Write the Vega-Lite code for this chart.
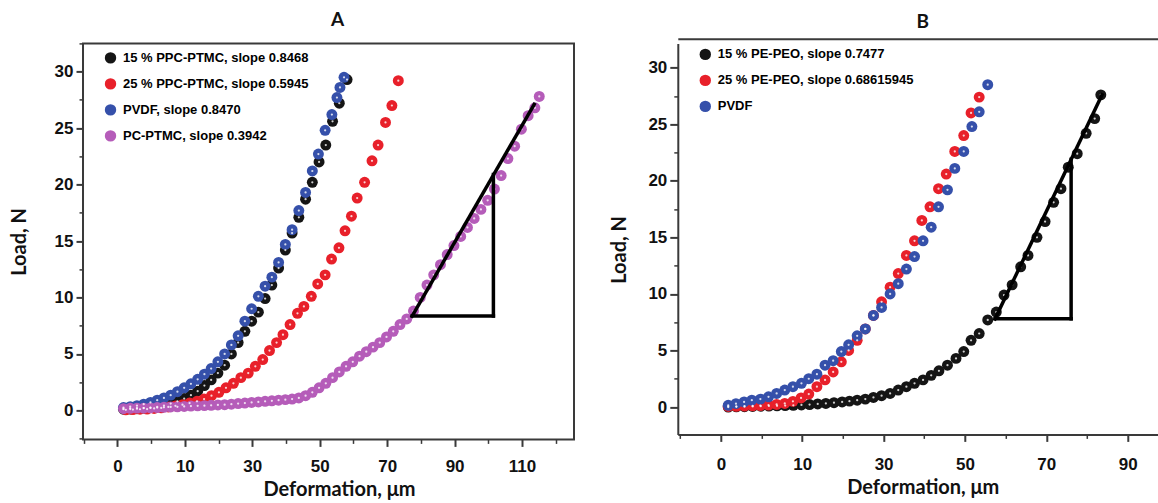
{
  "$schema": "https://vega.github.io/schema/vega-lite/v6.json",
  "padding": {"left": 8, "top": 9.4, "right": 0, "bottom": 0},
  "spacing": 33.8,
  "resolve": {"scale": {"color": "independent"}, "legend": {"color": "independent"}},
  "config": {
    "view": {"stroke": "#3a3a3a", "strokeWidth": 2},
    "axis": {"labelFont": "Liberation Sans", "labelFontWeight": "bold", "labelFontSize": 17, "labelColor": "#111111", "titleFont": "Lato", "titleFontWeight": "bold", "titleFontSize": 20, "titleColor": "#111111", "tickColor": "#3a3a3a", "grid": false, "domain": false, "domainColor": "#3a3a3a", "domainWidth": 2},
    "title": {"font": "Lato", "fontWeight": "bold", "fontSize": 19, "color": "#111111"},
    "legend": {"orient": "none", "title": null, "padding": 0, "rowPadding": 12, "labelOffset": 6, "symbolSize": 130, "symbolType": "circle", "symbolStrokeWidth": 0, "labelFont": "Liberation Sans", "labelFontWeight": "bold", "labelFontSize": 13, "labelLimit": 400}
  },
  "datasets": {
    "a": [
      {"s": "15 % PPC-PTMC, slope 0.8468", "x": -8.2, "y": 0.1}, {"s": "15 % PPC-PTMC, slope 0.8468", "x": -6.2, "y": 0.12}, {"s": "15 % PPC-PTMC, slope 0.8468", "x": -4.2, "y": 0.15}, {"s": "15 % PPC-PTMC, slope 0.8468", "x": -2.2, "y": 0.2}, {"s": "15 % PPC-PTMC, slope 0.8468", "x": -0.2, "y": 0.25}, {"s": "15 % PPC-PTMC, slope 0.8468", "x": 1.8, "y": 0.32}, {"s": "15 % PPC-PTMC, slope 0.8468", "x": 3.8, "y": 0.42}, {"s": "15 % PPC-PTMC, slope 0.8468", "x": 5.8, "y": 0.6}, {"s": "15 % PPC-PTMC, slope 0.8468", "x": 7.8, "y": 0.8}, {"s": "15 % PPC-PTMC, slope 0.8468", "x": 9.8, "y": 1.05}, {"s": "15 % PPC-PTMC, slope 0.8468", "x": 11.8, "y": 1.35}, {"s": "15 % PPC-PTMC, slope 0.8468", "x": 13.8, "y": 1.7}, {"s": "15 % PPC-PTMC, slope 0.8468", "x": 15.8, "y": 2.2}, {"s": "15 % PPC-PTMC, slope 0.8468", "x": 17.8, "y": 2.7}, {"s": "15 % PPC-PTMC, slope 0.8468", "x": 19.8, "y": 3.3}, {"s": "15 % PPC-PTMC, slope 0.8468", "x": 21.8, "y": 4.0}, {"s": "15 % PPC-PTMC, slope 0.8468", "x": 23.8, "y": 5.0}, {"s": "15 % PPC-PTMC, slope 0.8468", "x": 25.8, "y": 6.0}, {"s": "15 % PPC-PTMC, slope 0.8468", "x": 27.8, "y": 7.0}, {"s": "15 % PPC-PTMC, slope 0.8468", "x": 29.8, "y": 7.9}, {"s": "15 % PPC-PTMC, slope 0.8468", "x": 31.8, "y": 8.7}, {"s": "15 % PPC-PTMC, slope 0.8468", "x": 33.8, "y": 9.9}, {"s": "15 % PPC-PTMC, slope 0.8468", "x": 35.8, "y": 11.1}, {"s": "15 % PPC-PTMC, slope 0.8468", "x": 37.8, "y": 12.6}, {"s": "15 % PPC-PTMC, slope 0.8468", "x": 39.8, "y": 14.2}, {"s": "15 % PPC-PTMC, slope 0.8468", "x": 41.8, "y": 15.7}, {"s": "15 % PPC-PTMC, slope 0.8468", "x": 43.8, "y": 17.1}, {"s": "15 % PPC-PTMC, slope 0.8468", "x": 45.8, "y": 18.7}, {"s": "15 % PPC-PTMC, slope 0.8468", "x": 47.8, "y": 20.2}, {"s": "15 % PPC-PTMC, slope 0.8468", "x": 49.8, "y": 22.0}, {"s": "15 % PPC-PTMC, slope 0.8468", "x": 51.8, "y": 23.5}, {"s": "15 % PPC-PTMC, slope 0.8468", "x": 53.8, "y": 25.6}, {"s": "15 % PPC-PTMC, slope 0.8468", "x": 55.8, "y": 27.2}, {"s": "15 % PPC-PTMC, slope 0.8468", "x": 58.1, "y": 29.3},
      {"s": "25 % PPC-PTMC, slope 0.5945", "x": -7.5, "y": 0.05}, {"s": "25 % PPC-PTMC, slope 0.5945", "x": -5.4, "y": 0.07}, {"s": "25 % PPC-PTMC, slope 0.5945", "x": -3.3, "y": 0.1}, {"s": "25 % PPC-PTMC, slope 0.5945", "x": -1.2, "y": 0.12}, {"s": "25 % PPC-PTMC, slope 0.5945", "x": 0.9, "y": 0.17}, {"s": "25 % PPC-PTMC, slope 0.5945", "x": 3.0, "y": 0.22}, {"s": "25 % PPC-PTMC, slope 0.5945", "x": 5.1, "y": 0.3}, {"s": "25 % PPC-PTMC, slope 0.5945", "x": 7.2, "y": 0.4}, {"s": "25 % PPC-PTMC, slope 0.5945", "x": 9.3, "y": 0.5}, {"s": "25 % PPC-PTMC, slope 0.5945", "x": 11.4, "y": 0.65}, {"s": "25 % PPC-PTMC, slope 0.5945", "x": 13.6, "y": 0.8}, {"s": "25 % PPC-PTMC, slope 0.5945", "x": 15.7, "y": 1.0}, {"s": "25 % PPC-PTMC, slope 0.5945", "x": 17.9, "y": 1.3}, {"s": "25 % PPC-PTMC, slope 0.5945", "x": 20.1, "y": 1.6}, {"s": "25 % PPC-PTMC, slope 0.5945", "x": 22.2, "y": 2.0}, {"s": "25 % PPC-PTMC, slope 0.5945", "x": 24.4, "y": 2.4}, {"s": "25 % PPC-PTMC, slope 0.5945", "x": 26.6, "y": 2.9}, {"s": "25 % PPC-PTMC, slope 0.5945", "x": 28.8, "y": 3.3}, {"s": "25 % PPC-PTMC, slope 0.5945", "x": 30.9, "y": 3.9}, {"s": "25 % PPC-PTMC, slope 0.5945", "x": 33.1, "y": 4.5}, {"s": "25 % PPC-PTMC, slope 0.5945", "x": 35.1, "y": 5.3}, {"s": "25 % PPC-PTMC, slope 0.5945", "x": 37.2, "y": 6.0}, {"s": "25 % PPC-PTMC, slope 0.5945", "x": 39.1, "y": 6.7}, {"s": "25 % PPC-PTMC, slope 0.5945", "x": 41.2, "y": 7.6}, {"s": "25 % PPC-PTMC, slope 0.5945", "x": 43.4, "y": 8.6}, {"s": "25 % PPC-PTMC, slope 0.5945", "x": 45.3, "y": 9.2}, {"s": "25 % PPC-PTMC, slope 0.5945", "x": 47.5, "y": 10.1}, {"s": "25 % PPC-PTMC, slope 0.5945", "x": 49.4, "y": 11.2}, {"s": "25 % PPC-PTMC, slope 0.5945", "x": 51.6, "y": 12.0}, {"s": "25 % PPC-PTMC, slope 0.5945", "x": 53.5, "y": 13.4}, {"s": "25 % PPC-PTMC, slope 0.5945", "x": 55.7, "y": 14.4}, {"s": "25 % PPC-PTMC, slope 0.5945", "x": 57.5, "y": 15.9}, {"s": "25 % PPC-PTMC, slope 0.5945", "x": 59.4, "y": 17.2}, {"s": "25 % PPC-PTMC, slope 0.5945", "x": 61.1, "y": 18.8}, {"s": "25 % PPC-PTMC, slope 0.5945", "x": 63.3, "y": 20.2}, {"s": "25 % PPC-PTMC, slope 0.5945", "x": 65.5, "y": 22.1}, {"s": "25 % PPC-PTMC, slope 0.5945", "x": 67.3, "y": 23.5}, {"s": "25 % PPC-PTMC, slope 0.5945", "x": 69.5, "y": 25.5}, {"s": "25 % PPC-PTMC, slope 0.5945", "x": 71.4, "y": 27.0}, {"s": "25 % PPC-PTMC, slope 0.5945", "x": 73.3, "y": 29.2},
      {"s": "PVDF,  slope 0.8470", "x": -8.2, "y": 0.25}, {"s": "PVDF,  slope 0.8470", "x": -6.2, "y": 0.33}, {"s": "PVDF,  slope 0.8470", "x": -4.2, "y": 0.42}, {"s": "PVDF,  slope 0.8470", "x": -2.2, "y": 0.55}, {"s": "PVDF,  slope 0.8470", "x": -0.2, "y": 0.7}, {"s": "PVDF,  slope 0.8470", "x": 1.8, "y": 0.9}, {"s": "PVDF,  slope 0.8470", "x": 3.8, "y": 1.1}, {"s": "PVDF,  slope 0.8470", "x": 5.8, "y": 1.35}, {"s": "PVDF,  slope 0.8470", "x": 7.8, "y": 1.65}, {"s": "PVDF,  slope 0.8470", "x": 9.8, "y": 2.0}, {"s": "PVDF,  slope 0.8470", "x": 11.8, "y": 2.35}, {"s": "PVDF,  slope 0.8470", "x": 13.8, "y": 2.75}, {"s": "PVDF,  slope 0.8470", "x": 15.8, "y": 3.2}, {"s": "PVDF,  slope 0.8470", "x": 17.8, "y": 3.7}, {"s": "PVDF,  slope 0.8470", "x": 19.8, "y": 4.3}, {"s": "PVDF,  slope 0.8470", "x": 21.8, "y": 5.0}, {"s": "PVDF,  slope 0.8470", "x": 23.8, "y": 5.8}, {"s": "PVDF,  slope 0.8470", "x": 25.8, "y": 6.6}, {"s": "PVDF,  slope 0.8470", "x": 27.8, "y": 7.9}, {"s": "PVDF,  slope 0.8470", "x": 29.8, "y": 9.0}, {"s": "PVDF,  slope 0.8470", "x": 31.8, "y": 10.1}, {"s": "PVDF,  slope 0.8470", "x": 33.8, "y": 11.0}, {"s": "PVDF,  slope 0.8470", "x": 35.8, "y": 11.8}, {"s": "PVDF,  slope 0.8470", "x": 37.8, "y": 13.1}, {"s": "PVDF,  slope 0.8470", "x": 39.8, "y": 14.7}, {"s": "PVDF,  slope 0.8470", "x": 41.8, "y": 16.0}, {"s": "PVDF,  slope 0.8470", "x": 43.8, "y": 17.7}, {"s": "PVDF,  slope 0.8470", "x": 45.8, "y": 19.3}, {"s": "PVDF,  slope 0.8470", "x": 47.8, "y": 21.2}, {"s": "PVDF,  slope 0.8470", "x": 49.6, "y": 22.7}, {"s": "PVDF,  slope 0.8470", "x": 51.6, "y": 24.8}, {"s": "PVDF,  slope 0.8470", "x": 53.6, "y": 26.2}, {"s": "PVDF,  slope 0.8470", "x": 55.1, "y": 27.7}, {"s": "PVDF,  slope 0.8470", "x": 56.0, "y": 28.6}, {"s": "PVDF,  slope 0.8470", "x": 57.2, "y": 29.5},
      {"s": "PC-PTMC, slope 0.3942", "x": -8.2, "y": 0.15}, {"s": "PC-PTMC, slope 0.3942", "x": -6.2, "y": 0.18}, {"s": "PC-PTMC, slope 0.3942", "x": -4.2, "y": 0.2}, {"s": "PC-PTMC, slope 0.3942", "x": -2.2, "y": 0.2}, {"s": "PC-PTMC, slope 0.3942", "x": -0.2, "y": 0.22}, {"s": "PC-PTMC, slope 0.3942", "x": 1.8, "y": 0.25}, {"s": "PC-PTMC, slope 0.3942", "x": 3.8, "y": 0.27}, {"s": "PC-PTMC, slope 0.3942", "x": 5.8, "y": 0.3}, {"s": "PC-PTMC, slope 0.3942", "x": 7.8, "y": 0.32}, {"s": "PC-PTMC, slope 0.3942", "x": 9.8, "y": 0.35}, {"s": "PC-PTMC, slope 0.3942", "x": 11.8, "y": 0.38}, {"s": "PC-PTMC, slope 0.3942", "x": 13.8, "y": 0.4}, {"s": "PC-PTMC, slope 0.3942", "x": 15.8, "y": 0.42}, {"s": "PC-PTMC, slope 0.3942", "x": 17.8, "y": 0.45}, {"s": "PC-PTMC, slope 0.3942", "x": 19.8, "y": 0.48}, {"s": "PC-PTMC, slope 0.3942", "x": 21.8, "y": 0.5}, {"s": "PC-PTMC, slope 0.3942", "x": 23.8, "y": 0.55}, {"s": "PC-PTMC, slope 0.3942", "x": 25.8, "y": 0.6}, {"s": "PC-PTMC, slope 0.3942", "x": 27.8, "y": 0.65}, {"s": "PC-PTMC, slope 0.3942", "x": 29.8, "y": 0.7}, {"s": "PC-PTMC, slope 0.3942", "x": 31.8, "y": 0.75}, {"s": "PC-PTMC, slope 0.3942", "x": 33.8, "y": 0.8}, {"s": "PC-PTMC, slope 0.3942", "x": 35.8, "y": 0.85}, {"s": "PC-PTMC, slope 0.3942", "x": 37.8, "y": 0.9}, {"s": "PC-PTMC, slope 0.3942", "x": 39.8, "y": 0.95}, {"s": "PC-PTMC, slope 0.3942", "x": 41.8, "y": 1.0}, {"s": "PC-PTMC, slope 0.3942", "x": 43.8, "y": 1.1}, {"s": "PC-PTMC, slope 0.3942", "x": 45.8, "y": 1.3}, {"s": "PC-PTMC, slope 0.3942", "x": 47.8, "y": 1.6}, {"s": "PC-PTMC, slope 0.3942", "x": 49.8, "y": 2.0}, {"s": "PC-PTMC, slope 0.3942", "x": 51.8, "y": 2.4}, {"s": "PC-PTMC, slope 0.3942", "x": 53.8, "y": 2.9}, {"s": "PC-PTMC, slope 0.3942", "x": 55.8, "y": 3.4}, {"s": "PC-PTMC, slope 0.3942", "x": 57.8, "y": 3.9}, {"s": "PC-PTMC, slope 0.3942", "x": 59.8, "y": 4.3}, {"s": "PC-PTMC, slope 0.3942", "x": 61.8, "y": 4.8}, {"s": "PC-PTMC, slope 0.3942", "x": 63.8, "y": 5.2}, {"s": "PC-PTMC, slope 0.3942", "x": 65.8, "y": 5.6}, {"s": "PC-PTMC, slope 0.3942", "x": 67.8, "y": 6.0}, {"s": "PC-PTMC, slope 0.3942", "x": 69.8, "y": 6.5}, {"s": "PC-PTMC, slope 0.3942", "x": 71.8, "y": 7.0}, {"s": "PC-PTMC, slope 0.3942", "x": 73.8, "y": 7.6}, {"s": "PC-PTMC, slope 0.3942", "x": 75.8, "y": 8.1}, {"s": "PC-PTMC, slope 0.3942", "x": 77.8, "y": 8.8}, {"s": "PC-PTMC, slope 0.3942", "x": 79.8, "y": 10.0}, {"s": "PC-PTMC, slope 0.3942", "x": 81.8, "y": 11.1}, {"s": "PC-PTMC, slope 0.3942", "x": 83.8, "y": 12.0}, {"s": "PC-PTMC, slope 0.3942", "x": 85.8, "y": 12.9}, {"s": "PC-PTMC, slope 0.3942", "x": 87.8, "y": 13.8}, {"s": "PC-PTMC, slope 0.3942", "x": 89.8, "y": 14.6}, {"s": "PC-PTMC, slope 0.3942", "x": 91.8, "y": 15.4}, {"s": "PC-PTMC, slope 0.3942", "x": 93.8, "y": 16.2}, {"s": "PC-PTMC, slope 0.3942", "x": 95.8, "y": 17.0}, {"s": "PC-PTMC, slope 0.3942", "x": 97.8, "y": 17.8}, {"s": "PC-PTMC, slope 0.3942", "x": 99.8, "y": 18.6}, {"s": "PC-PTMC, slope 0.3942", "x": 101.8, "y": 19.6}, {"s": "PC-PTMC, slope 0.3942", "x": 103.8, "y": 20.8}, {"s": "PC-PTMC, slope 0.3942", "x": 105.8, "y": 22.3}, {"s": "PC-PTMC, slope 0.3942", "x": 107.8, "y": 23.4}, {"s": "PC-PTMC, slope 0.3942", "x": 109.8, "y": 24.9}, {"s": "PC-PTMC, slope 0.3942", "x": 111.8, "y": 26.1}, {"s": "PC-PTMC, slope 0.3942", "x": 113.8, "y": 26.8}, {"s": "PC-PTMC, slope 0.3942", "x": 115.1, "y": 27.8}
    ],
    "b": [
      {"s": "15 % PE-PEO, slope 0.7477", "x": -8.2, "y": 0.0}, {"s": "15 % PE-PEO, slope 0.7477", "x": -6.2, "y": 0.02}, {"s": "15 % PE-PEO, slope 0.7477", "x": -4.2, "y": 0.03}, {"s": "15 % PE-PEO, slope 0.7477", "x": -2.2, "y": 0.05}, {"s": "15 % PE-PEO, slope 0.7477", "x": -0.2, "y": 0.07}, {"s": "15 % PE-PEO, slope 0.7477", "x": 1.8, "y": 0.09}, {"s": "15 % PE-PEO, slope 0.7477", "x": 3.8, "y": 0.11}, {"s": "15 % PE-PEO, slope 0.7477", "x": 5.8, "y": 0.13}, {"s": "15 % PE-PEO, slope 0.7477", "x": 7.8, "y": 0.15}, {"s": "15 % PE-PEO, slope 0.7477", "x": 9.8, "y": 0.18}, {"s": "15 % PE-PEO, slope 0.7477", "x": 11.8, "y": 0.22}, {"s": "15 % PE-PEO, slope 0.7477", "x": 13.8, "y": 0.27}, {"s": "15 % PE-PEO, slope 0.7477", "x": 15.8, "y": 0.32}, {"s": "15 % PE-PEO, slope 0.7477", "x": 17.8, "y": 0.38}, {"s": "15 % PE-PEO, slope 0.7477", "x": 19.8, "y": 0.45}, {"s": "15 % PE-PEO, slope 0.7477", "x": 21.6, "y": 0.52}, {"s": "15 % PE-PEO, slope 0.7477", "x": 23.5, "y": 0.6}, {"s": "15 % PE-PEO, slope 0.7477", "x": 25.5, "y": 0.7}, {"s": "15 % PE-PEO, slope 0.7477", "x": 27.5, "y": 0.85}, {"s": "15 % PE-PEO, slope 0.7477", "x": 29.5, "y": 1.0}, {"s": "15 % PE-PEO, slope 0.7477", "x": 31.6, "y": 1.2}, {"s": "15 % PE-PEO, slope 0.7477", "x": 33.6, "y": 1.5}, {"s": "15 % PE-PEO, slope 0.7477", "x": 35.6, "y": 1.8}, {"s": "15 % PE-PEO, slope 0.7477", "x": 37.6, "y": 2.1}, {"s": "15 % PE-PEO, slope 0.7477", "x": 39.7, "y": 2.4}, {"s": "15 % PE-PEO, slope 0.7477", "x": 41.7, "y": 2.8}, {"s": "15 % PE-PEO, slope 0.7477", "x": 43.6, "y": 3.2}, {"s": "15 % PE-PEO, slope 0.7477", "x": 45.7, "y": 3.7}, {"s": "15 % PE-PEO, slope 0.7477", "x": 47.8, "y": 4.3}, {"s": "15 % PE-PEO, slope 0.7477", "x": 49.7, "y": 4.9}, {"s": "15 % PE-PEO, slope 0.7477", "x": 51.5, "y": 5.9}, {"s": "15 % PE-PEO, slope 0.7477", "x": 53.5, "y": 6.5}, {"s": "15 % PE-PEO, slope 0.7477", "x": 55.6, "y": 7.7}, {"s": "15 % PE-PEO, slope 0.7477", "x": 57.7, "y": 8.4}, {"s": "15 % PE-PEO, slope 0.7477", "x": 59.6, "y": 9.9}, {"s": "15 % PE-PEO, slope 0.7477", "x": 61.6, "y": 10.8}, {"s": "15 % PE-PEO, slope 0.7477", "x": 63.7, "y": 12.4}, {"s": "15 % PE-PEO, slope 0.7477", "x": 65.5, "y": 13.4}, {"s": "15 % PE-PEO, slope 0.7477", "x": 67.7, "y": 15.0}, {"s": "15 % PE-PEO, slope 0.7477", "x": 69.7, "y": 16.4}, {"s": "15 % PE-PEO, slope 0.7477", "x": 71.8, "y": 18.1}, {"s": "15 % PE-PEO, slope 0.7477", "x": 73.6, "y": 19.3}, {"s": "15 % PE-PEO, slope 0.7477", "x": 75.4, "y": 21.2}, {"s": "15 % PE-PEO, slope 0.7477", "x": 77.6, "y": 22.4}, {"s": "15 % PE-PEO, slope 0.7477", "x": 79.8, "y": 24.2}, {"s": "15 % PE-PEO, slope 0.7477", "x": 81.9, "y": 25.5}, {"s": "15 % PE-PEO, slope 0.7477", "x": 83.4, "y": 27.6},
      {"s": "25 % PE-PEO, slope 0.68615945", "x": -8.2, "y": 0.05}, {"s": "25 % PE-PEO, slope 0.68615945", "x": -6.2, "y": 0.06}, {"s": "25 % PE-PEO, slope 0.68615945", "x": -4.2, "y": 0.08}, {"s": "25 % PE-PEO, slope 0.68615945", "x": -2.2, "y": 0.1}, {"s": "25 % PE-PEO, slope 0.68615945", "x": -0.3, "y": 0.13}, {"s": "25 % PE-PEO, slope 0.68615945", "x": 1.7, "y": 0.17}, {"s": "25 % PE-PEO, slope 0.68615945", "x": 3.7, "y": 0.23}, {"s": "25 % PE-PEO, slope 0.68615945", "x": 5.7, "y": 0.32}, {"s": "25 % PE-PEO, slope 0.68615945", "x": 7.7, "y": 0.5}, {"s": "25 % PE-PEO, slope 0.68615945", "x": 9.7, "y": 0.8}, {"s": "25 % PE-PEO, slope 0.68615945", "x": 11.6, "y": 1.15}, {"s": "25 % PE-PEO, slope 0.68615945", "x": 13.6, "y": 1.8}, {"s": "25 % PE-PEO, slope 0.68615945", "x": 15.6, "y": 2.4}, {"s": "25 % PE-PEO, slope 0.68615945", "x": 17.6, "y": 3.1}, {"s": "25 % PE-PEO, slope 0.68615945", "x": 19.6, "y": 4.0}, {"s": "25 % PE-PEO, slope 0.68615945", "x": 21.4, "y": 5.0}, {"s": "25 % PE-PEO, slope 0.68615945", "x": 23.5, "y": 5.9}, {"s": "25 % PE-PEO, slope 0.68615945", "x": 25.5, "y": 6.9}, {"s": "25 % PE-PEO, slope 0.68615945", "x": 27.5, "y": 8.1}, {"s": "25 % PE-PEO, slope 0.68615945", "x": 29.5, "y": 9.3}, {"s": "25 % PE-PEO, slope 0.68615945", "x": 31.6, "y": 10.6}, {"s": "25 % PE-PEO, slope 0.68615945", "x": 33.6, "y": 11.8}, {"s": "25 % PE-PEO, slope 0.68615945", "x": 35.6, "y": 13.4}, {"s": "25 % PE-PEO, slope 0.68615945", "x": 37.6, "y": 14.7}, {"s": "25 % PE-PEO, slope 0.68615945", "x": 39.4, "y": 16.5}, {"s": "25 % PE-PEO, slope 0.68615945", "x": 41.4, "y": 17.7}, {"s": "25 % PE-PEO, slope 0.68615945", "x": 43.5, "y": 19.3}, {"s": "25 % PE-PEO, slope 0.68615945", "x": 45.4, "y": 20.6}, {"s": "25 % PE-PEO, slope 0.68615945", "x": 47.5, "y": 22.6}, {"s": "25 % PE-PEO, slope 0.68615945", "x": 49.7, "y": 24.0}, {"s": "25 % PE-PEO, slope 0.68615945", "x": 51.5, "y": 26.0}, {"s": "25 % PE-PEO, slope 0.68615945", "x": 53.5, "y": 27.4},
      {"s": "PVDF", "x": -8.2, "y": 0.15}, {"s": "PVDF", "x": -6.3, "y": 0.3}, {"s": "PVDF", "x": -4.3, "y": 0.45}, {"s": "PVDF", "x": -2.4, "y": 0.6}, {"s": "PVDF", "x": -0.3, "y": 0.7}, {"s": "PVDF", "x": 1.7, "y": 0.9}, {"s": "PVDF", "x": 3.7, "y": 1.2}, {"s": "PVDF", "x": 5.7, "y": 1.5}, {"s": "PVDF", "x": 7.7, "y": 1.8}, {"s": "PVDF", "x": 9.8, "y": 2.1}, {"s": "PVDF", "x": 11.6, "y": 2.5}, {"s": "PVDF", "x": 13.6, "y": 2.9}, {"s": "PVDF", "x": 15.6, "y": 3.7}, {"s": "PVDF", "x": 17.6, "y": 4.1}, {"s": "PVDF", "x": 19.6, "y": 4.9}, {"s": "PVDF", "x": 21.4, "y": 5.5}, {"s": "PVDF", "x": 23.5, "y": 6.3}, {"s": "PVDF", "x": 25.5, "y": 6.9}, {"s": "PVDF", "x": 27.5, "y": 8.1}, {"s": "PVDF", "x": 29.5, "y": 8.8}, {"s": "PVDF", "x": 31.6, "y": 10.0}, {"s": "PVDF", "x": 33.6, "y": 10.9}, {"s": "PVDF", "x": 35.6, "y": 12.2}, {"s": "PVDF", "x": 37.6, "y": 13.3}, {"s": "PVDF", "x": 39.7, "y": 14.7}, {"s": "PVDF", "x": 41.7, "y": 15.9}, {"s": "PVDF", "x": 43.5, "y": 17.7}, {"s": "PVDF", "x": 45.7, "y": 19.2}, {"s": "PVDF", "x": 47.5, "y": 21.1}, {"s": "PVDF", "x": 49.7, "y": 22.6}, {"s": "PVDF", "x": 51.7, "y": 24.8}, {"s": "PVDF", "x": 53.5, "y": 26.1}, {"s": "PVDF", "x": 55.6, "y": 28.5}
    ],
    "triA": [
      {"x": 77.4, "y": 8.35, "x2": 113.6, "y2": 27.1},
      {"x": 77.4, "y": 8.35, "x2": 101.5, "y2": 8.35},
      {"x": 101.5, "y": 8.35, "x2": 101.5, "y2": 20.9}
    ],
    "triB": [
      {"x": 57.4, "y": 7.8, "x2": 83.7, "y2": 27.6},
      {"x": 57.4, "y": 7.8, "x2": 76.1, "y2": 7.8},
      {"x": 76.1, "y": 7.8, "x2": 76.1, "y2": 21.9}
    ]
  },
  "hconcat": [
    {"vconcat": [
    {
      "width": 491,
      "height": 396,
      "title": {"text": "A", "offset": 12.9, "dx": 9},
      "encoding": {
        "x": {"field": "x", "type": "quantitative", "title": "Deformation, μm",
          "scale": {"domain": [-20.2, 125.4], "nice": false, "zero": false},
          "axis": {"values": [-20, -10, 0, 10, 20, 30, 40, 50, 60, 70, 80, 90, 100, 110, 120],
            "labelExpr": "datum.value == -10 ? '0' : (datum.value % 20 == 0 ? '' : datum.label)",
            "tickSize": {"condition": {"test": "datum.value % 20 == 0", "value": 4}, "value": 7},
            "tickWidth": {"condition": {"test": "datum.value % 20 == 0", "value": 1.5}, "value": 2},
            "labelPadding": 12, "titlePadding": 5, "titleX": 256}},
        "y": {"field": "y", "type": "quantitative", "title": "Load, N",
          "scale": {"domain": [-2.57, 32.5], "nice": false, "zero": false},
          "axis": {"values": [-2.5, 0, 2.5, 5, 7.5, 10, 12.5, 15, 17.5, 20, 22.5, 25, 27.5, 30, 32.5],
            "labelExpr": "datum.value % 5 == 0 ? datum.label : ''",
            "tickSize": {"condition": {"test": "datum.value % 5 != 0", "value": 4}, "value": 7},
            "tickWidth": {"condition": {"test": "datum.value % 5 != 0", "value": 1.5}, "value": 2},
            "labelPadding": 3, "titlePadding": 24.8}}
      },
      "layer": [
        {
          "data": {"name": "a"},
          "mark": {"type": "point", "filled": true, "size": 120, "opacity": 1, "strokeWidth": 0},
          "encoding": {
            "color": {"field": "s", "type": "nominal",
              "scale": {"domain": ["15 % PPC-PTMC, slope 0.8468", "25 % PPC-PTMC, slope 0.5945", "PVDF,  slope 0.8470", "PC-PTMC, slope 0.3942"],
                "range": ["#151515", "#e8202a", "#3550aa", "#b55cb9"]},
              "legend": {"legendX": 21, "legendY": 8,
                "encode": {"labels": {"update": {"fill": {"signal": "indexOf(datum.label, '15') == 0 ? '#1a1a1a' : indexOf(datum.label, '25') == 0 ? '#e3161c' : indexOf(datum.label, 'PVDF') == 0 ? '#233f9b' : '#9a3fc6'"}}}}}}
          }
        },
        {
          "data": {"name": "a"},
          "mark": {"type": "point", "filled": true, "size": 5, "color": "#ffffff", "opacity": 0.8}
        },
        {
          "data": {"name": "triA"},
          "mark": {"type": "rule", "color": "#000000", "strokeWidth": 3.5, "strokeCap": "square"},
          "encoding": {"x2": {"field": "x2"}, "y2": {"field": "y2"}}
        }
      ]
    }
    ]},
    {"vconcat": [
    {
      "width": 482,
      "height": 391,
      "view": {"stroke": null},
      "title": {"text": "B", "offset": 7.1, "dx": 4},
      "resolve": {"axis": {"x": "independent"}},
      "encoding": {
        "y": {"field": "y", "type": "quantitative", "title": "Load, N",
          "scale": {"domain": [-2.42, 32.15], "nice": false, "zero": false},
          "axis": {"values": [0, 2.5, 5, 7.5, 10, 12.5, 15, 17.5, 20, 22.5, 25, 27.5, 30],
            "labelExpr": "datum.value % 5 == 0 ? datum.label : ''",
            "tickSize": {"condition": {"test": "datum.value % 5 != 0", "value": 4}, "value": 8},
            "tickWidth": {"condition": {"test": "datum.value % 5 != 0", "value": 1.5}, "value": 2},
            "domain": true, "labelPadding": 3, "titlePadding": 18.6, "titleY": 206}}
      },
      "layer": [
        {
          "data": {"name": "b"},
          "mark": {"type": "point", "filled": true, "size": 120, "opacity": 1, "strokeWidth": 0},
          "encoding": {
            "x": {"field": "x", "type": "quantitative", "title": "Deformation, μm",
              "scale": {"domain": [-20.6, 97.9], "nice": false, "zero": false},
              "axis": {"values": [-20, -10, 0, 10, 20, 30, 40, 50, 60, 70, 80, 90],
                "labelExpr": "datum.value == -10 ? '0' : (datum.value % 20 == 0 ? '' : datum.label)",
                "tickSize": {"condition": {"test": "datum.value % 20 == 0", "value": 4}, "value": 7},
                "tickWidth": {"condition": {"test": "datum.value % 20 == 0", "value": 1.5}, "value": 2},
                "domain": true, "labelPadding": 15, "titlePadding": 5, "titleX": 245}},
            "color": {"field": "s", "type": "nominal",
              "scale": {"domain": ["15 % PE-PEO, slope 0.7477", "25 % PE-PEO, slope 0.68615945", "PVDF"],
                "range": ["#151515", "#e8202a", "#3550aa"]},
              "legend": {"legendX": 21, "legendY": 4.5,
                "encode": {"labels": {"update": {"fill": {"signal": "indexOf(datum.label, '15') == 0 ? '#1a1a1a' : indexOf(datum.label, '25') == 0 ? '#e3161c' : '#233f9b'"}}}}}}
          }
        },
        {
          "data": {"name": "b"},
          "mark": {"type": "point", "filled": true, "size": 5, "color": "#ffffff", "opacity": 0.8},
          "encoding": {
            "x": {"field": "x", "type": "quantitative", "axis": null}
          }
        },
        {
          "data": {"name": "triB"},
          "mark": {"type": "rule", "color": "#000000", "strokeWidth": 3.5, "strokeCap": "square"},
          "encoding": {
            "x": {"field": "x", "type": "quantitative",
              "axis": {"orient": "top", "domain": true, "ticks": false, "labels": false, "title": null, "offset": 4.7}},
            "x2": {"field": "x2"},
            "y2": {"field": "y2"}
          }
        }
      ]
    }
    ]}
  ]
}
